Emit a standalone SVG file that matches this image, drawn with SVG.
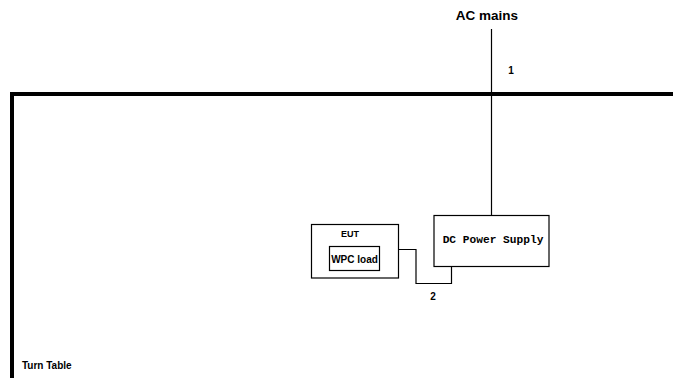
<svg xmlns="http://www.w3.org/2000/svg" width="673" height="378" viewBox="0 0 673 378">
<style>
.box{fill:#fff;stroke:#000;stroke-width:1.2}
.wire{fill:none;stroke:#000;stroke-width:1.2}
.lbl{font-family:"Liberation Sans",Arial,sans-serif;font-weight:bold;fill:#000}
</style>
<rect width="673" height="378" fill="#fff"/>
<g id="turntable">
<path d="M12,378 V94 H673" fill="none" stroke="#000" stroke-width="4"/>
<text class="lbl" x="22" y="369" font-size="10">Turn Table</text>
</g>
<g id="connectors">
<line class="wire" x1="491.5" y1="29" x2="491.5" y2="215"/>
<text class="lbl" x="511" y="74" font-size="10" text-anchor="middle">1</text>
<path class="wire" d="M399,249.5 H416 V283.5 H451.5 V266"/>
<text class="lbl" x="433" y="300" font-size="10" text-anchor="middle">2</text>
</g>
<g id="ac-mains">
<text class="lbl" x="487" y="19.5" font-size="13.5" text-anchor="middle">AC mains</text>
</g>
<g id="eut">
<rect class="box" x="311.5" y="224.5" width="87" height="53.5"/>
<text class="lbl" x="350" y="237" font-size="9" text-anchor="middle">EUT</text>
</g>
<g id="wpc-load">
<rect class="box" x="329.5" y="246.5" width="50" height="24"/>
<text class="lbl" x="354.5" y="262.5" font-size="10" text-anchor="middle">WPC load</text>
</g>
<g id="dc-power-supply">
<rect class="box" x="434" y="215.5" width="115" height="51"/>
<text x="493" y="243" font-family="Liberation Mono,'Courier New',monospace" font-weight="bold" font-size="11.2" text-anchor="middle">DC Power Supply</text>
</g>
</svg>
